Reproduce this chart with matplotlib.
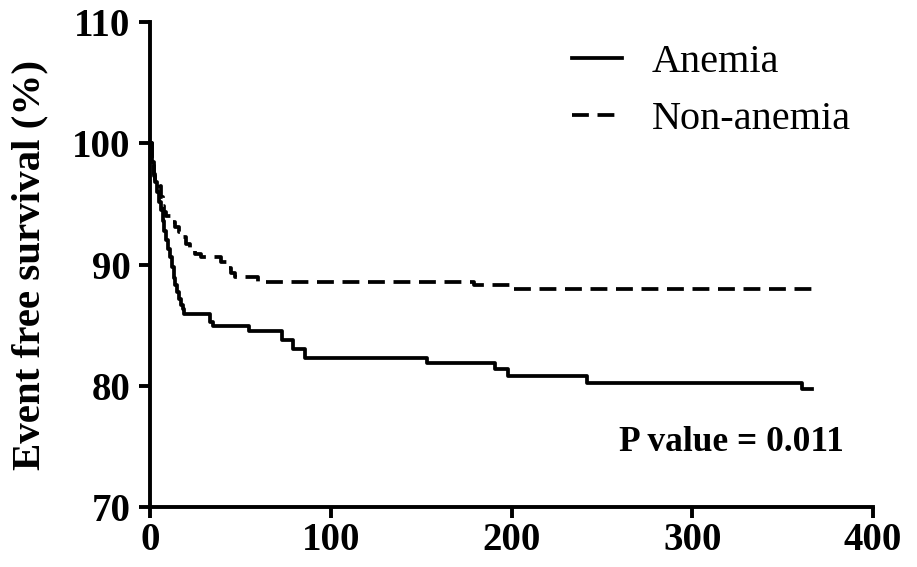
import matplotlib
matplotlib.use('Agg')
import matplotlib.pyplot as plt

# Kaplan-Meier event free survival (days, %)
anemia_t = [0, 1, 2, 3, 4, 5, 6, 7, 8, 9, 10, 11, 12, 13, 14, 15, 16, 17, 18, 19,
            33, 35, 55, 73, 79, 86, 153, 191, 198, 242, 361, 366]
anemia_s = [100, 98.5, 97.5, 96.8, 96.0, 95.2, 94.5, 93.6, 92.8, 92.0, 91.3, 90.6,
            89.8, 88.9, 88.3, 87.7, 87.2, 86.7, 86.3, 85.9,
            85.3, 84.9, 84.5, 83.8, 83.0, 82.3, 81.9, 81.4, 80.8, 80.25, 79.75, 79.75]

non_anemia_t = [0, 1, 2, 3, 5, 6, 7, 8, 9, 12, 14, 16, 18, 20, 22, 25, 28,
                39, 43, 45, 47, 60, 179, 199, 366]
non_anemia_s = [100, 98.4, 97.3, 96.8, 96.5, 95.6, 94.8, 94.3, 94.0, 93.5, 93.1,
                92.7, 92.3, 91.7, 91.2, 90.9, 90.6, 90.2, 89.7, 89.3, 89.0,
                88.6, 88.35, 88.0, 88.0]

x_ticks = [0, 100, 200, 300, 400]
y_ticks = [70, 80, 90, 100, 110]

plt.rcParams['font.family'] = ['Liberation Serif', 'DejaVu Serif']

fig = plt.figure(figsize=(9.17, 5.67), dpi=100)
ax = fig.add_axes([0.1636, 0.1058, 0.7884, 0.8552])

ax.step(anemia_t, anemia_s, where='post', color='black', lw=2.7, label='Anemia')
ax.step(non_anemia_t, non_anemia_s, where='post', color='black', lw=2.7,
        dashes=(4.5, 2.3), label='Non-anemia')

ax.set_xlim(0, 400)
ax.set_ylim(70, 110)
ax.set_xticks(x_ticks)
ax.set_yticks(y_ticks)
ax.tick_params(direction='out', width=2.8, length=8, labelsize=28)
ax.tick_params(axis='y', pad=6)
ax.tick_params(axis='x', pad=3)
for lab in ax.get_xticklabels() + ax.get_yticklabels():
    lab.set_fontweight('bold')

for s in ['top', 'right']:
    ax.spines[s].set_visible(False)
for s in ['left', 'bottom']:
    ax.spines[s].set_linewidth(2.8)

ax.set_ylabel('Event free survival (%)', fontsize=29.5, fontweight='bold', labelpad=17)

ax.text(0.96, 0.134, 'P value = 0.011', transform=ax.transAxes, ha='right',
        va='center', fontsize=25.5, fontweight='bold')

ax.legend(loc='upper right', bbox_to_anchor=(1.02, 1.03), frameon=False,
          fontsize=29, handlelength=1.25, handletextpad=0.75, labelspacing=0.5)

fig.savefig('out.png', dpi=100)
